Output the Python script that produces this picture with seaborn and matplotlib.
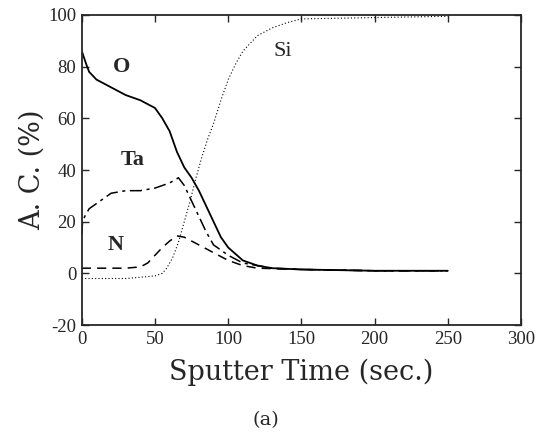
import numpy as np
import pandas as pd
import matplotlib
matplotlib.use("Agg")
import matplotlib.pyplot as plt
import seaborn as sns

# sputter time (sec.) and atomic concentration (%)
t_o = [0, 3, 5, 10, 20, 30, 40, 50, 55, 60, 65, 70, 75, 80, 85, 90, 95, 100, 110, 120, 130, 150, 200, 250]
o_vals = [86, 81, 78, 75, 72, 69, 67, 64, 60, 55, 47, 41, 37, 32, 26, 20, 14, 10, 5, 3, 2, 1.5, 1, 1]

t_ta = [0, 0.5, 2, 5, 10, 20, 30, 40, 50, 60, 66, 70, 75, 80, 85, 90, 100, 110, 120, 130, 150, 200, 250]
ta_vals = [15, 20, 22, 25, 27, 31, 32, 32, 33, 35, 37, 34, 28, 22, 16, 11, 7, 4, 3, 2, 1.5, 1, 1]

t_n = [0, 10, 20, 30, 40, 45, 50, 55, 60, 65, 70, 80, 90, 100, 110, 120, 150, 200, 250]
n_vals = [2, 2, 2, 2, 2.5, 4, 7, 10, 12.5, 14.5, 14, 11, 8, 5, 3, 2, 1.5, 1, 1]

t_si = [0, 10, 20, 30, 40, 50, 55, 58, 62, 66, 70, 74, 78, 82, 86, 90, 95, 100, 105, 110, 120, 130, 140, 150, 200, 250]
si_vals = [-2, -2, -2, -2, -1.5, -1, 0, 2, 6, 12, 20, 28, 37, 45, 52, 58, 67, 75, 81, 86, 92, 95, 97, 98.5, 99, 99.5]

labels = ["O", "Ta", "N", "Si"]
label_pos = [(27, 80), (35, 44), (23, 11), (137, 86)]

sns.set_style("ticks")
plt.rcParams['font.family'] = ['Liberation Serif', 'DejaVu Serif']
plt.rcParams['axes.unicode_minus'] = False

fig = plt.figure(figsize=(5.49, 4.41), dpi=100)
ax = fig.add_axes([0.149, 0.263, 0.800, 0.703])

sns.lineplot(x=t_o, y=o_vals, ax=ax, color="black", lw=1.3)
sns.lineplot(x=t_ta, y=ta_vals, ax=ax, color="black", lw=1.1)
ax.lines[-1].set_dashes((8, 3, 2, 3))
sns.lineplot(x=t_n, y=n_vals, ax=ax, color="black", lw=1.1)
ax.lines[-1].set_dashes((6, 4))
sns.lineplot(x=t_si, y=si_vals, ax=ax, color="black", lw=0.8)
ax.lines[-1].set_dashes((1, 2))

for lab, (x, y) in zip(labels, label_pos):
    ax.text(x, y, lab, fontsize=16, fontweight="bold" if lab != "Si" else "normal",
            ha="center", va="center")

ax.set_xlim(0, 300)
ax.set_ylim(-20, 100)
ax.set_xticks(np.arange(0, 301, 50))
ax.set_yticks(np.arange(-20, 101, 20))
ax.tick_params(direction="in", top=True, right=True, length=5, width=1, labelsize=13.5, pad=4)
for s in ax.spines.values():
    s.set_visible(True)
    s.set_linewidth(1.3)

ax.set_xlabel("Sputter Time (sec.)", fontsize=19.5, family="DejaVu Serif", labelpad=8)
ax.set_ylabel("A. C. (%)", fontsize=19.5, family="DejaVu Serif", labelpad=2)
fig.text(0.485, 0.048, "(a)", fontsize=14, family="DejaVu Serif", ha="center", va="center")

fig.savefig("out.png", dpi=100)
